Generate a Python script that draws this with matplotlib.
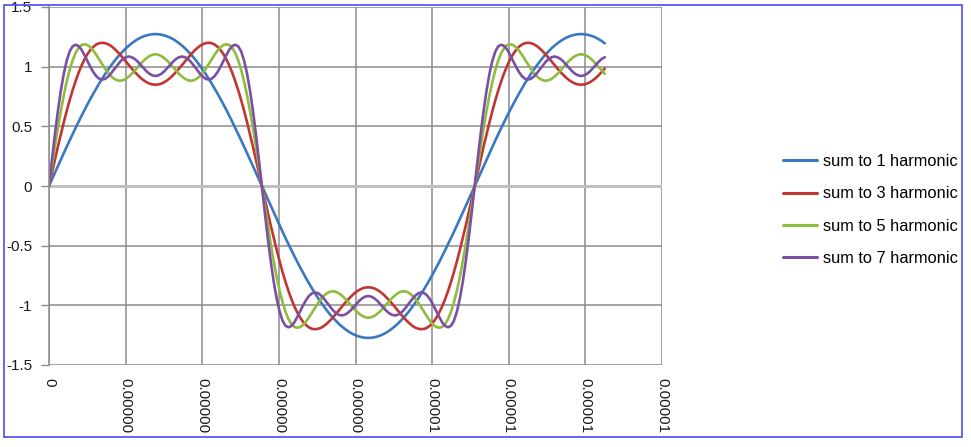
import numpy as np
import matplotlib
matplotlib.use('Agg')
import matplotlib.pyplot as plt
from matplotlib.patches import Rectangle

plt.rcParams['font.family'] = ['Liberation Sans', 'DejaVu Sans']

# sample times: one point every 2.5 degrees of a 5.556 us period
t_step_us = 0.03858
n_points = 189
t = np.arange(n_points) * t_step_us * 1e-6

sum1 = [0, 0.056, 0.111, 0.166, 0.221, 0.275, 0.330, 0.383, 0.436, 0.487, 0.538, 0.588, 0.637, 0.684, 0.730, 0.775, 0.818, 0.860, 0.900,
        0.939, 0.975, 1.010, 1.043, 1.074, 1.103, 1.129, 1.154, 1.176, 1.196, 1.214, 1.230, 1.243, 1.254, 1.262, 1.268, 1.272, 1.273,
        1.272, 1.268, 1.262, 1.254, 1.243, 1.230, 1.214, 1.196, 1.176, 1.154, 1.129, 1.103, 1.074, 1.043, 1.010, 0.975, 0.939, 0.900,
        0.860, 0.818, 0.775, 0.730, 0.684, 0.637, 0.588, 0.538, 0.487, 0.436, 0.383, 0.330, 0.275, 0.221, 0.166, 0.111, 0.056, 0,
        -0.056, -0.111, -0.166, -0.221, -0.275, -0.330, -0.383, -0.436, -0.487, -0.538, -0.588, -0.637, -0.684, -0.730, -0.775, -0.818, -0.860, -0.900,
        -0.939, -0.975, -1.010, -1.043, -1.074, -1.103, -1.129, -1.154, -1.176, -1.196, -1.214, -1.230, -1.243, -1.254, -1.262, -1.268, -1.272, -1.273,
        -1.272, -1.268, -1.262, -1.254, -1.243, -1.230, -1.214, -1.196, -1.176, -1.154, -1.129, -1.103, -1.074, -1.043, -1.010, -0.975, -0.939, -0.900,
        -0.860, -0.818, -0.775, -0.730, -0.684, -0.637, -0.588, -0.538, -0.487, -0.436, -0.383, -0.330, -0.275, -0.221, -0.166, -0.111, -0.056, 0,
        0.056, 0.111, 0.166, 0.221, 0.275, 0.330, 0.383, 0.436, 0.487, 0.538, 0.588, 0.637, 0.684, 0.730, 0.775, 0.818, 0.860, 0.900,
        0.939, 0.975, 1.010, 1.043, 1.074, 1.103, 1.129, 1.154, 1.176, 1.196, 1.214, 1.230, 1.243, 1.254, 1.262, 1.268, 1.272, 1.273,
        1.272, 1.268, 1.262, 1.254, 1.243, 1.230, 1.214, 1.196]

sum3 = [0, 0.111, 0.221, 0.329, 0.433, 0.534, 0.630, 0.720, 0.803, 0.879, 0.948, 1.009, 1.061, 1.105, 1.140, 1.167, 1.186, 1.197, 1.200,
        1.197, 1.188, 1.173, 1.153, 1.129, 1.103, 1.074, 1.044, 1.014, 0.984, 0.956, 0.930, 0.906, 0.886, 0.870, 0.858, 0.851, 0.849,
        0.851, 0.858, 0.870, 0.886, 0.906, 0.930, 0.956, 0.984, 1.014, 1.044, 1.074, 1.103, 1.129, 1.153, 1.173, 1.188, 1.197, 1.200,
        1.197, 1.186, 1.167, 1.140, 1.105, 1.061, 1.009, 0.948, 0.879, 0.803, 0.720, 0.630, 0.534, 0.433, 0.329, 0.221, 0.111, 0,
        -0.111, -0.221, -0.329, -0.433, -0.534, -0.630, -0.720, -0.803, -0.879, -0.948, -1.009, -1.061, -1.105, -1.140, -1.167, -1.186, -1.197, -1.200,
        -1.197, -1.188, -1.173, -1.153, -1.129, -1.103, -1.074, -1.044, -1.014, -0.984, -0.956, -0.930, -0.906, -0.886, -0.870, -0.858, -0.851, -0.849,
        -0.851, -0.858, -0.870, -0.886, -0.906, -0.930, -0.956, -0.984, -1.014, -1.044, -1.074, -1.103, -1.129, -1.153, -1.173, -1.188, -1.197, -1.200,
        -1.197, -1.186, -1.167, -1.140, -1.105, -1.061, -1.009, -0.948, -0.879, -0.803, -0.720, -0.630, -0.534, -0.433, -0.329, -0.221, -0.111, 0,
        0.111, 0.221, 0.329, 0.433, 0.534, 0.630, 0.720, 0.803, 0.879, 0.948, 1.009, 1.061, 1.105, 1.140, 1.167, 1.186, 1.197, 1.200,
        1.197, 1.188, 1.173, 1.153, 1.129, 1.103, 1.074, 1.044, 1.014, 0.984, 0.956, 0.930, 0.906, 0.886, 0.870, 0.858, 0.851, 0.849,
        0.851, 0.858, 0.870, 0.886, 0.906, 0.930, 0.956, 0.984]

sum5 = [0, 0.166, 0.329, 0.484, 0.628, 0.760, 0.876, 0.974, 1.054, 1.115, 1.157, 1.181, 1.188, 1.181, 1.163, 1.134, 1.099, 1.060, 1.020,
        0.982, 0.948, 0.920, 0.899, 0.886, 0.882, 0.886, 0.898, 0.917, 0.940, 0.967, 0.996, 1.024, 1.050, 1.072, 1.089, 1.100, 1.104,
        1.100, 1.089, 1.072, 1.050, 1.024, 0.996, 0.967, 0.940, 0.917, 0.898, 0.886, 0.882, 0.886, 0.899, 0.920, 0.948, 0.982, 1.020,
        1.060, 1.099, 1.134, 1.163, 1.181, 1.188, 1.181, 1.157, 1.115, 1.054, 0.974, 0.876, 0.760, 0.628, 0.484, 0.329, 0.166, 0,
        -0.166, -0.329, -0.484, -0.628, -0.760, -0.876, -0.974, -1.054, -1.115, -1.157, -1.181, -1.188, -1.181, -1.163, -1.134, -1.099, -1.060, -1.020,
        -0.982, -0.948, -0.920, -0.899, -0.886, -0.882, -0.886, -0.898, -0.917, -0.940, -0.967, -0.996, -1.024, -1.050, -1.072, -1.089, -1.100, -1.104,
        -1.100, -1.089, -1.072, -1.050, -1.024, -0.996, -0.967, -0.940, -0.917, -0.898, -0.886, -0.882, -0.886, -0.899, -0.920, -0.948, -0.982, -1.020,
        -1.060, -1.099, -1.134, -1.163, -1.181, -1.188, -1.181, -1.157, -1.115, -1.054, -0.974, -0.876, -0.760, -0.628, -0.484, -0.329, -0.166, 0,
        0.166, 0.329, 0.484, 0.628, 0.760, 0.876, 0.974, 1.054, 1.115, 1.157, 1.181, 1.188, 1.181, 1.163, 1.134, 1.099, 1.060, 1.020,
        0.982, 0.948, 0.920, 0.899, 0.886, 0.882, 0.886, 0.898, 0.917, 0.940, 0.967, 0.996, 1.024, 1.050, 1.072, 1.089, 1.100, 1.104,
        1.100, 1.089, 1.072, 1.050, 1.024, 0.996, 0.967, 0.940]

sum7 = [0, 0.221, 0.433, 0.628, 0.799, 0.941, 1.051, 1.128, 1.171, 1.184, 1.173, 1.142, 1.097, 1.047, 0.998, 0.954, 0.920, 0.899, 0.892,
        0.898, 0.917, 0.944, 0.976, 1.009, 1.040, 1.064, 1.079, 1.085, 1.079, 1.065, 1.043, 1.016, 0.988, 0.961, 0.940, 0.927, 0.922,
        0.927, 0.940, 0.961, 0.988, 1.016, 1.043, 1.065, 1.079, 1.085, 1.079, 1.064, 1.040, 1.009, 0.976, 0.944, 0.917, 0.898, 0.892,
        0.899, 0.920, 0.954, 0.998, 1.047, 1.097, 1.142, 1.173, 1.184, 1.171, 1.128, 1.051, 0.941, 0.799, 0.628, 0.433, 0.221, 0,
        -0.221, -0.433, -0.628, -0.799, -0.941, -1.051, -1.128, -1.171, -1.184, -1.173, -1.142, -1.097, -1.047, -0.998, -0.954, -0.920, -0.899, -0.892,
        -0.898, -0.917, -0.944, -0.976, -1.009, -1.040, -1.064, -1.079, -1.085, -1.079, -1.065, -1.043, -1.016, -0.988, -0.961, -0.940, -0.927, -0.922,
        -0.927, -0.940, -0.961, -0.988, -1.016, -1.043, -1.065, -1.079, -1.085, -1.079, -1.064, -1.040, -1.009, -0.976, -0.944, -0.917, -0.898, -0.892,
        -0.899, -0.920, -0.954, -0.998, -1.047, -1.097, -1.142, -1.173, -1.184, -1.171, -1.128, -1.051, -0.941, -0.799, -0.628, -0.433, -0.221, 0,
        0.221, 0.433, 0.628, 0.799, 0.941, 1.051, 1.128, 1.171, 1.184, 1.173, 1.142, 1.097, 1.047, 0.998, 0.954, 0.920, 0.899, 0.892,
        0.898, 0.917, 0.944, 0.976, 1.009, 1.040, 1.064, 1.079, 1.085, 1.079, 1.065, 1.043, 1.016, 0.988, 0.961, 0.940, 0.927, 0.922,
        0.927, 0.940, 0.961, 0.988, 1.016, 1.043, 1.065, 1.079]

series = [sum1, sum3, sum5, sum7]
labels = ['sum to 1 harmonic', 'sum to 3 harmonic', 'sum to 5 harmonic', 'sum to 7 harmonic']
colors = ['#3b78c2', '#c23531', '#8fbc3e', '#7b4fa3']

x_ticks = [0, 1e-6, 2e-6, 3e-6, 4e-6, 5e-6, 6e-6, 7e-6, 8e-6]
x_tick_labels = ['0', '0.00000', '0.00000', '0.00000', '0.00000',
                 '0.00001', '0.00001', '0.00001', '0.00001']
y_ticks = [-1.5, -1, -0.5, 0, 0.5, 1, 1.5]
y_tick_labels = ['-1.5', '-1', '-0.5', '0', '0.5', '1', '1.5']

W, H = 971, 447
fig = plt.figure(figsize=(W / 100, H / 100), dpi=100)
ax = fig.add_axes([49 / W, 1 - 365 / H, (662 - 49) / W, (365 - 7) / H])

for y, lab, c in zip(series, labels, colors):
    ax.plot(t[:len(y)], y, color=c, lw=1.9, label=lab, solid_capstyle='round')

ax.set_xlim(0, 8e-6)
ax.set_ylim(-1.5, 1.5)
ax.set_xticks(x_ticks)
ax.set_xticklabels(x_tick_labels, rotation=-90, fontsize=11, color='#1a1a1a')
ax.set_yticks(y_ticks)
ax.set_yticklabels(y_tick_labels, fontsize=11, color='#1a1a1a')
ax.tick_params(axis='x', length=0, pad=9)
ax.tick_params(axis='y', length=6, width=1, color='#8c8c8c', pad=6)
for lbl in ax.get_xticklabels():
    lbl.set_va('top')
    lbl.set_ha('center')

ax.grid(True, color='#8c8c8c', lw=1.1)
ax.set_axisbelow(True)
ax.axhline(0, color='#c0c0c0', lw=2.2, zorder=1.5)
for s in ['top', 'right', 'bottom']:
    ax.spines[s].set_visible(False)
ax.spines['left'].set_color('#8c8c8c')
ax.spines['left'].set_linewidth(1.1)

leg = fig.legend(loc='center left', bbox_to_anchor=(783 / W, 1 - 210 / H),
                 frameon=False, fontsize=11.8, handlelength=2.05,
                 handletextpad=0.37, labelspacing=1.05, borderaxespad=0,
                 borderpad=0)
for line in leg.get_lines():
    line.set_linewidth(2.2)

fig.patches.append(Rectangle((4 / W, 1 - 437 / H), 958 / W, 432 / H,
                             transform=fig.transFigure, fill=False,
                             edgecolor='#4b4bf2', lw=1.2))

fig.savefig('out.png', dpi=100, facecolor='white')
